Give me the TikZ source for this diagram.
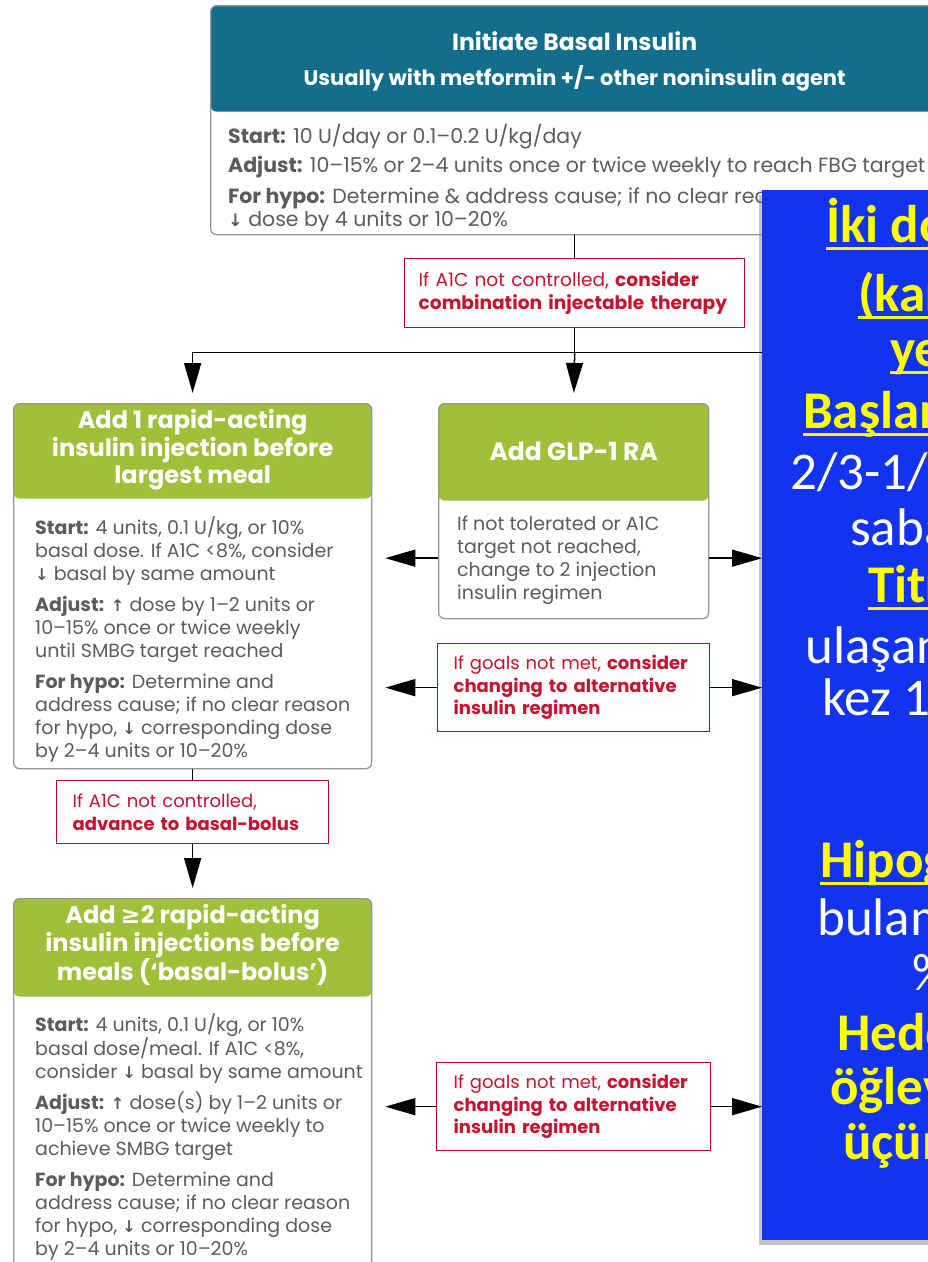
\documentclass[tikz,border=0pt]{standalone}
\usepackage{fontspec}
\setmainfont{Poppins}
\newfontfamily\trfont{Carlito}
\newfontfamily\symfont{DejaVu Sans}
\usetikzlibrary{arrows.meta,positioning,shadows}

\definecolor{hdrteal}{RGB}{18,110,140}
\definecolor{hdrgreen}{RGB}{160,192,58}
\definecolor{bodygray}{RGB}{92,92,92}
\definecolor{framegray}{RGB}{150,150,150}
\definecolor{alertred}{RGB}{200,18,48}
\definecolor{noteblue}{RGB}{18,52,240}
\definecolor{noteyellow}{RGB}{255,255,0}

\newcommand{\lbl}[1]{\textbf{#1}}
\newcommand{\arrdn}{{\symfont\bfseries\scalebox{0.85}{↓}}}
\newcommand{\arrup}{{\symfont\bfseries\scalebox{0.85}{↑}}}
\newcommand{\atleast}{{\symfont ≥}}
\newcommand{\uln}[1]{\sbox0{#1}\rlap{\rule[-8pt]{\wd0}{2.8pt}}\usebox0}

\tikzset{
  card/.style={draw=framegray, line width=1.3pt, rounded corners=6pt,
    fill=white, inner sep=0pt, anchor=north west},
  hdr/.style 2 args={path picture={\fill[#1]
    (path picture bounding box.north west) rectangle
    ([yshift=-#2]path picture bounding box.north east);}},
  hdrtext/.style={text=white, font=\bfseries\fontsize{24}{27.5}\selectfont,
    align=center, inner sep=0pt},
  bodytext/.style={text=bodygray, font=\fontsize{19}{23}\selectfont,
    align=left, anchor=north west, inner sep=0pt},
  alert/.style={draw=alertred!85!black, line width=1.3pt, fill=white,
    text=alertred, font=\fontsize{18}{22.5}\selectfont, align=left,
    inner ysep=0pt, anchor=north west},
  note/.style={fill=noteblue, anchor=north west, inner sep=0pt,
    drop shadow={shadow xshift=-3pt, shadow yshift=-5pt, opacity=0.45}},
  line/.style={line width=1.5pt},
  arrow/.style={line width=1.5pt, -{Triangle[length=30pt,width=17pt]}},
}

\begin{document}
\begin{tikzpicture}[x=1pt,y=-1pt]
\useasboundingbox[fill=white] (0,0) rectangle (928,1262);
\begin{scope}
\clip (0,0) rectangle (928,1262);

% basal insulin
\node[card, hdr={hdrteal}{106pt}, minimum width=728pt, minimum height=229pt] (basal) at (210,5) {};
\node[hdrtext, font=\bfseries\fontsize{21}{27}\selectfont] at ([yshift=-56pt]basal.north)
  {{\fontsize{23.5}{27}\selectfont Initiate Basal Insulin}\\[8pt] Usually with metformin +/- other noninsulin agent};
\node[bodytext, font=\fontsize{20.5}{23}\selectfont] at ([xshift=18pt,yshift=-119pt]basal.north west)
  {\lbl{Start:} 10 U/day or 0.1–0.2 U/kg/day\\[6pt]
   \lbl{Adjust:} 10–15\% or 2–4 units once or twice weekly to reach FBG target\\[8pt]
   \lbl{For hypo:} Determine \& address cause; if no clear rea\\
   \arrdn{} dose by 4 units or 10–20\%};

% combination step
\node[alert, font=\fontsize{18.6}{22.5}\selectfont, text width=312pt, inner xsep=14pt,
  minimum height=69pt] (combi) at (404,258)
  {If A1C not controlled, \textbf{consider}\\ \textbf{combination injectable therapy}};

% add 1 rapid-acting
\node[card, hdr={hdrgreen}{95pt}, minimum width=358pt, minimum height=365pt] (rapid) at (13,403) {};
\node[hdrtext] at ([yshift=-47pt]rapid.north)
  {Add 1 rapid-acting\\insulin injection before\\largest meal};
\node[bodytext] at ([xshift=22pt,yshift=-113pt]rapid.north west)
  {\lbl{Start:} 4 units, 0.1 U/kg, or 10\%\\
   basal dose. If A1C <8\%, consider\\
   \arrdn{} basal by same amount\\[8pt]
   \lbl{Adjust:} \arrup{} dose by 1–2 units or\\
   10–15\% once or twice weekly\\
   until SMBG target reached\\[8pt]
   \lbl{For hypo:} Determine and\\
   address cause; if no clear reason\\
   for hypo, \arrdn{} corresponding dose\\
   by 2–4 units or 10–20\%};

% glp-1
\node[card, hdr={hdrgreen}{97pt}, minimum width=270pt, minimum height=215pt] (glp) at (438,403) {};
\node[hdrtext, font=\bfseries\fontsize{25}{27.5}\selectfont] at ([yshift=-48pt]glp.north) {Add GLP-1 RA};
\node[bodytext] at ([xshift=19pt,yshift=-113pt]glp.north west)
  {If not tolerated or A1C\\target not reached,\\change to 2 injection\\insulin regimen};

\node[alert, text width=240pt, inner xsep=16pt, minimum height=88pt] (swapA) at (437,643)
  {If goals not met, \textbf{consider}\\ \textbf{changing to alternative}\\ \textbf{insulin regimen}};

\node[alert, text width=240pt, inner xsep=16pt, minimum height=63pt] (bolus) at (56,780)
  {If A1C not controlled,\\ \textbf{advance to basal-bolus}};

% basal-bolus
\node[card, hdr={hdrgreen}{98pt}, minimum width=358pt, minimum height=385pt] (multi) at (13,898) {};
\node[hdrtext] at ([yshift=-47pt]multi.north)
  {Add \atleast2 rapid-acting\\insulin injections before\\meals (‘basal-bolus’)};
\node[bodytext] at ([xshift=22pt,yshift=-115pt]multi.north west)
  {\lbl{Start:} 4 units, 0.1 U/kg, or 10\%\\
   basal dose/meal. If A1C <8\%,\\
   consider \arrdn{} basal by same amount\\[8pt]
   \lbl{Adjust:} \arrup{} dose(s) by 1–2 units or\\
   10–15\% once or twice weekly to\\
   achieve SMBG target\\[8pt]
   \lbl{For hypo:} Determine and\\
   address cause; if no clear reason\\
   for hypo, \arrdn{} corresponding dose\\
   by 2–4 units or 10–20\%};

\node[alert, text width=240pt, inner xsep=17pt, minimum height=88pt] (swapB) at (436,1062)
  {If goals not met, \textbf{consider}\\ \textbf{changing to alternative}\\ \textbf{insulin regimen}};

% turkish note on top
\node[note, minimum width=260pt, minimum height=1050pt] (turk) at (762,190) {};

% connectors
\coordinate (split) at ([yshift=-24pt]combi.south);
\draw[line] (basal) -- (combi);
\draw[line] (combi.south) -- (split);
\draw[line] (rapid.north |- split) -- (split -| turk.west);
\draw[arrow, shorten >=10pt] (rapid.north |- split) -- (rapid.north);
\draw[arrow, shorten >=10pt] (split) -- (glp.north);
\draw[arrow, shorten >=13pt] ([yshift=-47pt]glp.west) -- ([yshift=-47pt]glp.west -| rapid.east);
\draw[arrow] ([yshift=-47pt]glp.east) -- ([yshift=-47pt]glp.east -| turk.west);
\draw[arrow, shorten >=13pt] (swapA.west) -- (swapA.west -| rapid.east);
\draw[arrow] (swapA.east) -- (swapA.east -| turk.west);
\draw[line] (rapid) -- (bolus);
\draw[arrow, shorten >=10pt] (bolus.south) -- (multi.north);
\draw[arrow, shorten >=13pt] (swapB.west) -- (swapB.west -| multi.east);
\draw[arrow] (swapB.east) -- (swapB.east -| turk.west);

% note text
\foreach \px/\py/\txt in {826/242/{İki doz}, 858/311/{(kar}, 890/366/{yet},
    803/428/{Başlan}, 868/602/{Titr}, 820/877/{Hipog}}
  \node[anchor=base west, inner sep=0pt, text=noteyellow,
    font=\trfont\bfseries\fontsize{53}{60}\selectfont] at (\px,\py) {\uln{\txt}};
\foreach \px/\py/\txt in {790/489/{2/3-1/3}, 850/545/{sabah}, 805/663/{ulaşana},
    822/715/{kez 1-}, 817/935/{bulama}, 912/990/{\%1}}
  \node[anchor=base west, inner sep=0pt, text=white,
    font=\trfont\fontsize{53}{60}\selectfont] at (\px,\py) {\txt};
\foreach \px/\py/\txt in {837/1050/{Hedef}, 830/1104/{öğleve}, 843/1159/{üçünc}}
  \node[anchor=base west, inner sep=0pt, text=noteyellow,
    font=\trfont\bfseries\fontsize{53}{60}\selectfont] at (\px,\py) {\txt};
\end{scope}
\end{tikzpicture}
\end{document}
